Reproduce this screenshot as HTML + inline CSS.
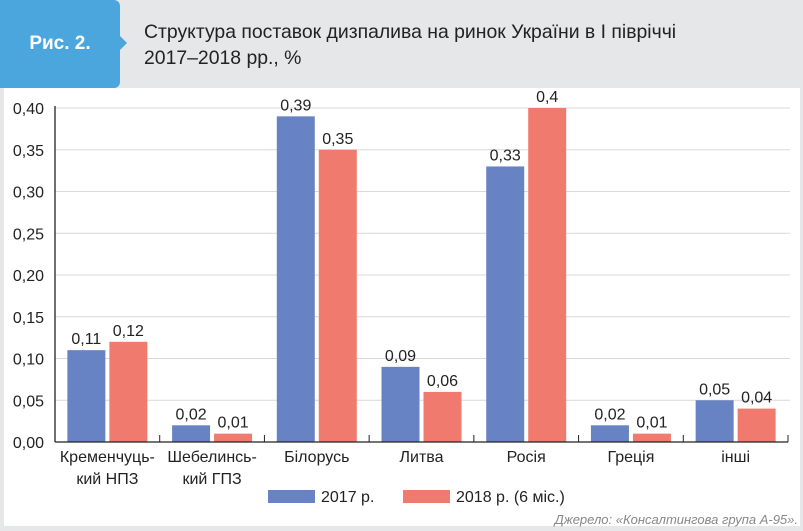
<!DOCTYPE html>
<html><head><meta charset="utf-8"><style>
body{margin:0;width:803px;height:531px;background:#e6e7e9;font-family:"Liberation Sans","DejaVu Sans",sans-serif;overflow:hidden;position:relative}
#panel{position:absolute;left:4px;top:88px;width:796px;height:438px;background:#fff}
#tab{position:absolute;left:0;top:0;width:120px;height:88px;background:#4aa6dc;border-radius:0 6px 6px 0}
#tab:after{content:"";position:absolute;right:-7px;top:36px;border-left:7px solid #4aa6dc;border-top:7px solid transparent;border-bottom:7px solid transparent}
#tablabel{position:absolute;left:0;top:33px;width:120px;text-align:center;color:#fff;font-weight:bold;font-size:19px}
#title{position:absolute;left:144px;top:19px;font-size:19.4px;line-height:26px;color:#222}
svg{position:absolute;left:0;top:0}
</style></head><body>
<div id="panel"></div>
<div id="tab"><div id="tablabel">Рис. 2.</div></div>
<div id="title">Структура поставок дизпалива на ринок України в І півріччі<br>2017–2018 рр., %</div>
<svg id="chart" width="803" height="531"></svg>
<script>
const categories=[["Кременчуць-","кий НПЗ"],["Шебелинсь-","кий ГПЗ"],["Білорусь"],["Литва"],["Росія"],["Греція"],["інші"]];
const values2017=[0.11,0.02,0.39,0.09,0.33,0.02,0.05];
const values2018=[0.12,0.01,0.35,0.06,0.4,0.01,0.04];
const labels2017=["0,11","0,02","0,39","0,09","0,33","0,02","0,05"];
const labels2018=["0,12","0,01","0,35","0,06","0,4","0,01","0,04"];
const yTicks=[0,0.05,0.1,0.15,0.2,0.25,0.3,0.35,0.4];
const yTickLabels=["0,00","0,05","0,10","0,15","0,20","0,25","0,30","0,35","0,40"];
const svg=document.getElementById('chart');
const NS='http://www.w3.org/2000/svg';
const x0=55,x1=788,y0=442,yTop=108,maxV=0.4;
const bw=(x1-x0)/categories.length;
const y=v=>y0-(v/maxV)*(y0-yTop);
function el(t,a,txt){const e=document.createElementNS(NS,t);for(const k in a)e.setAttribute(k,a[k]);if(txt!==undefined)e.textContent=txt;svg.appendChild(e);return e;}
yTicks.forEach((t,i)=>{
 if(i>0){const g=el('line',{x1:x0,x2:x1+2,y1:y(t),y2:y(t),stroke:'#d9d9d9','stroke-width':1});
 
 }
 const l=el('text',{x:44,y:y(t)+6,'text-anchor':'end','font-size':16,fill:'#222'},yTickLabels[i]);
 
 
});
categories.forEach((c,i)=>{
 const cx=x0+bw*(i+0.5);
 const b1=el('rect',{x:cx-40,y:y(values2017[i]),width:38,height:y0-y(values2017[i]),fill:'#6783c3'});
 
 
 const b2=el('rect',{x:cx+2,y:y(values2018[i]),width:38,height:y0-y(values2018[i]),fill:'#f17a6f'});
 
 
 const t1=el('text',{x:cx-21,y:y(values2017[i])-6,'text-anchor':'middle','font-size':16,fill:'#222'},labels2017[i]);
 
 
 const t2=el('text',{x:cx+21,y:y(values2018[i])-6,'text-anchor':'middle','font-size':16,fill:'#222'},labels2018[i]);
 
 
 c.forEach((line,j)=>{const t=el('text',{x:cx,y:y0+20+j*22,'text-anchor':'middle','font-size':16,fill:'#222'},line);
 
 });
 const tk=el('line',{x1:x0+bw*(i+1),x2:x0+bw*(i+1),y1:y0-7,y2:y0,stroke:'#222','stroke-width':1});
 
 
});
const ax=el('line',{x1:x0,x2:x1,y1:y0,y2:y0,stroke:'#222','stroke-width':1.3});


const ay=el('line',{x1:x0,x2:x0,y1:yTop-2,y2:y0,stroke:'#222','stroke-width':1.3});


const lg1=el('rect',{x:268,y:490,width:47,height:13,fill:'#6783c3'});


const lt1=el('text',{x:321,y:502,'font-size':16,fill:'#222'},'2017 р.');


const lg2=el('rect',{x:403,y:490,width:47,height:13,fill:'#f17a6f'});


const lt2=el('text',{x:456,y:502,'font-size':16,fill:'#222'},'2018 р. (6 міс.)');


const src=el('text',{x:798,y:524,'text-anchor':'end','font-size':13,'font-style':'italic',fill:'#888'},'Джерело: «Консалтингова група А-95».');


</script>
</body></html>
